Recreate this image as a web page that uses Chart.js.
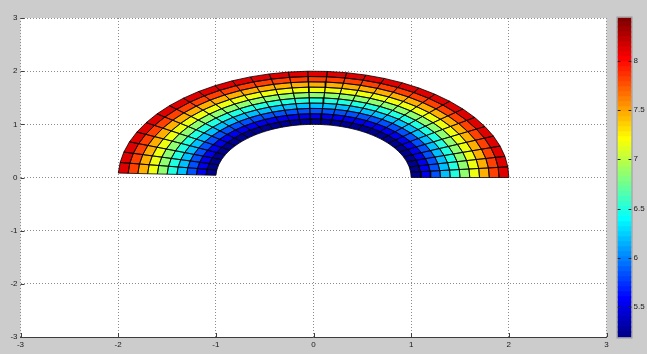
<!DOCTYPE html>
<html><head><meta charset="utf-8">
<script src="https://cdn.jsdelivr.net/npm/chart.js@4.4.1/dist/chart.umd.min.js"></script>
<style>
html,body{margin:0;padding:0;background:#cccccc;width:647px;height:354px;overflow:hidden;}
#main{position:absolute;left:0;top:0;}
#cbar{position:absolute;left:608px;top:0;}
</style></head><body>
<canvas id="main" width="647" height="354"></canvas>
<canvas id="cbar" width="39" height="354"></canvas>
<script>
// polar grid (angle in radians, radius)
const angles = [0.0,0.1,0.2,0.3,0.4,0.5,0.6,0.7,0.8,0.9,1.0,1.1,1.2,1.3,1.4,1.5,1.6,1.7,1.8,1.9,2.0,2.1,2.2,2.3,2.4,2.5,2.6,2.7,2.8,2.9,3.0,3.1];
const radii = [1.0,1.1,1.2,1.3,1.4,1.5,1.6,1.7,1.8,1.9,2.0];
// colour value of each radial band (inner to outer)
const bandValues = [5.19,5.52,5.84,6.17,6.49,6.82,7.14,7.47,7.79,8.12];
const axisTicks = [-3,-2,-1,0,1,2,3];
const colorTicks = [5.5,6,6.5,7,7.5,8];
const colorLimits = [5.19,8.44];

const FONT = {family:"'Liberation Sans', Arial, sans-serif", size:8};
const TXT = '#1a1a1a';

function jet(k){ // k = 1..64
  let r,g,b;
  if(k<25) r=0; else if(k<=40) r=(k-24)/16; else if(k<=55) r=1; else r=(72-k)/16;
  if(k<9) g=0; else if(k<=24) g=(k-8)/16; else if(k<=39) g=1; else if(k<=55) g=(56-k)/16; else g=0;
  if(k<=8) b=(k+8)/16; else if(k<=23) b=1; else if(k<=39) b=(40-k)/16; else b=0;
  return 'rgb('+Math.round(r*255)+','+Math.round(g*255)+','+Math.round(b*255)+')';
}
function colorFor(v){
  let k = Math.floor((v-colorLimits[0])/(colorLimits[1]-colorLimits[0])*64)+1;
  k = Math.max(1,Math.min(64,k));
  return jet(k);
}

const datasets = [];
for(let i=0;i<radii.length-1;i++){
  const col = colorFor(bandValues[i]);
  for(let j=0;j<angles.length-1;j++){
    const r0=radii[i], r1=radii[i+1], t0=angles[j], t1=angles[j+1];
    const pts = [
      {x:r0*Math.cos(t0), y:r0*Math.sin(t0)},
      {x:r1*Math.cos(t0), y:r1*Math.sin(t0)},
      {x:r1*Math.cos(t1), y:r1*Math.sin(t1)},
      {x:r0*Math.cos(t1), y:r0*Math.sin(t1)},
      {x:r0*Math.cos(t0), y:r0*Math.sin(t0)}
    ];
    datasets.push({data:pts, showLine:true, fill:'shape', backgroundColor:col,
      borderColor:'#000000', borderWidth:0.8, pointRadius:0, pointHoverRadius:0, tension:0});
  }
}

const plotBg = {id:'plotBg', beforeDraw(chart){
  const a=chart.chartArea, c=chart.ctx;
  c.save(); c.fillStyle='#ffffff'; c.fillRect(a.left,a.top,a.right-a.left,a.bottom-a.top); c.restore();
}};
const innerTicks = {id:'innerTicks', afterDraw(chart){
  const a=chart.chartArea, c=chart.ctx, xs=chart.scales.x, ys=chart.scales.y;
  c.save(); c.strokeStyle='#404040'; c.lineWidth=1; c.beginPath();
  axisTicks.forEach(v=>{ const px=Math.round(xs.getPixelForValue(v))+0.5; c.moveTo(px,a.bottom); c.lineTo(px,a.bottom-4); });
  axisTicks.forEach(v=>{ const py=Math.round(ys.getPixelForValue(v))+0.5; c.moveTo(a.left,py); c.lineTo(a.left+4,py); });
  c.stroke(); c.restore();
}};

const gridOpts = {color:'#8c8c8c', lineWidth:1, drawTicks:false};
new Chart(document.getElementById('main'), {
  type:'scatter',
  data:{datasets},
  options:{
    responsive:false, animation:false, events:[],
    layout:{padding:{left:0, top:18, right:40.5, bottom:0}},
    plugins:{legend:{display:false}, tooltip:{enabled:false}, filler:{drawTime:'beforeDatasetsDraw'}},
    scales:{
      x:{type:'linear', min:-3, max:3,
        afterBuildTicks:s=>{s.ticks=axisTicks.map(v=>({value:v}));},
        afterFit:s=>{s.height=17;},
        ticks:{padding:3, font:FONT, color:TXT, autoSkip:false, maxRotation:0, callback:v=>String(v)},
        grid:gridOpts, border:{display:true, color:'#3c3c3c', width:1, dash:[1,2]}},
      y:{type:'linear', min:-3, max:3,
        afterBuildTicks:s=>{s.ticks=axisTicks.map(v=>({value:v}));},
        afterFit:s=>{s.width=20.5;},
        ticks:{padding:3, font:FONT, color:TXT, autoSkip:false, callback:v=>String(v)},
        grid:gridOpts, border:{display:true, color:'rgba(0,0,0,0)', width:1, dash:[1,2]}}
    }
  },
  plugins:[plotBg, innerTicks]
});

// colour bar
const cbSets = [];
const span = colorLimits[1]-colorLimits[0];
for(let k=1;k<=64;k++){
  const lo = colorLimits[0]+(k-1)*span/64, hi = colorLimits[0]+k*span/64 + (k<64?0.01:0);
  cbSets.push({data:[[lo,hi]], backgroundColor:jet(k), borderWidth:0, barPercentage:1, categoryPercentage:1, grouped:false});
}
const cbTicks = {id:'cbTicks', afterDraw(chart){
  const a=chart.chartArea, c=chart.ctx, ys=chart.scales.y;
  c.save(); c.strokeStyle='#222222'; c.lineWidth=1; c.beginPath();
  colorTicks.forEach(v=>{ const py=Math.round(ys.getPixelForValue(v))+0.5;
    c.moveTo(a.left,py); c.lineTo(a.left+3,py); c.moveTo(a.right,py); c.lineTo(a.right-3,py); });
  c.stroke();
  c.strokeStyle='#9a9a9a'; c.strokeRect(a.left-0.5,a.top-0.5,a.right-a.left+1,a.bottom-a.top+1);
  c.restore();
}};
new Chart(document.getElementById('cbar'), {
  type:'bar',
  data:{labels:['c'], datasets:cbSets},
  options:{
    responsive:false, animation:false, events:[],
    layout:{padding:{left:9.5, top:17.5, right:0, bottom:16.5}},
    plugins:{legend:{display:false}, tooltip:{enabled:false}},
    scales:{
      x:{display:false},
      y:{type:'linear', position:'right', min:colorLimits[0], max:colorLimits[1],
        afterBuildTicks:s=>{s.ticks=colorTicks.map(v=>({value:v}));},
        afterFit:s=>{s.width=15.5;},
        ticks:{padding:2, font:FONT, color:TXT, autoSkip:false, callback:v=>String(v)},
        grid:{display:false, drawTicks:false}, border:{display:false}}
    }
  },
  plugins:[cbTicks]
});
</script>
</body></html>
